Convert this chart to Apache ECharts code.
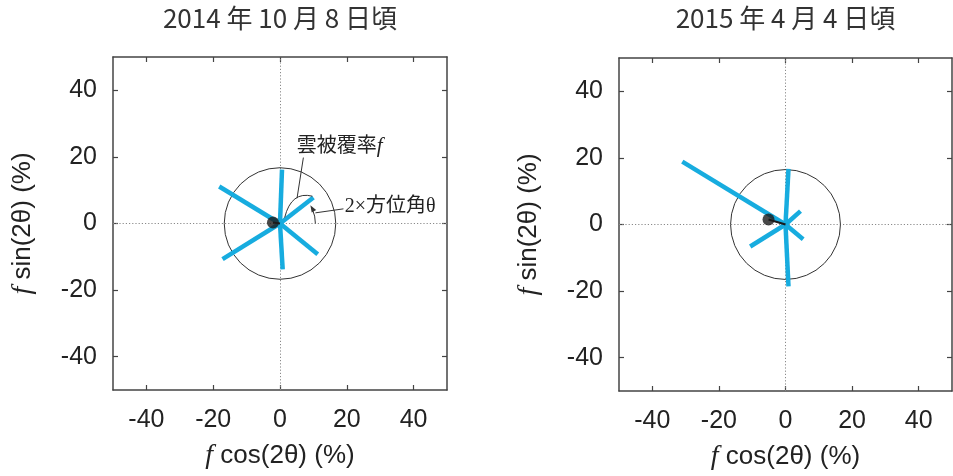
<!DOCTYPE html>
<html>
<head>
<meta charset="utf-8">
<script src="https://cdn.jsdelivr.net/npm/echarts@6/dist/echarts.min.js"></script>
<style>
  html, body { margin: 0; padding: 0; background: #fff; }
  #chart { width: 953px; height: 476px; }
</style>
</head>
<body>
<div id="chart"></div>
<script>
// Cloud cover vectors: each ray ends at (f cos2θ, f sin2θ) in percent.
const panelTitles = ['2014 年 10 月 8 日頃', '2015 年 4 月 4 日頃'];
const tickValues = [-40, -20, 0, 20, 40];

const raysOct2014 = [[0.6, 16.2], [0.8, -13.8], [-18.2, 11.1], [-17.2, -10.7], [10.0, 7.8], [11.3, -9.2]];
const raysApr2015 = [[0.9, 16.7], [0.9, -18.6], [-31.0, 18.9], [-10.6, -6.6], [4.5, 4.0], [5.3, -4.4]];

// mean vector of each date
const meanOct2014 = [-2.1, 0.3];
const meanApr2015 = [-5.1, 1.5];

// reference circle radius (%)
const circleOct2014 = 16.7;
const circleApr2015 = 16.5;

const BLUE = '#17acdf';
const FRAME = '#444';
const AXIS_MIN = -50, AXIS_MAX = 50;
const SANS = '"Liberation Sans", Arial, Helvetica, sans-serif';
const SERIF = '"Liberation Serif", "Noto Sans CJK JP", serif';

const grids = [
  { left: 113, top: 57, width: 334, height: 333 },
  { left: 619, top: 58, width: 333, height: 333 }
];

const italicRich = {
  i: { fontFamily: SERIF, fontStyle: 'italic', fontSize: 28, color: '#222' }
};

function frameAxis(gridIndex, position, isMain, name) {
  const ax = {
    type: 'value',
    gridIndex: gridIndex,
    position: position,
    min: AXIS_MIN,
    max: AXIS_MAX,
    splitLine: { show: false },
    axisLine: { show: true, onZero: false, lineStyle: { color: FRAME, width: 1.5 } },
    axisTick: { show: true, inside: true, length: 5, customValues: tickValues, lineStyle: { color: FRAME, width: 1.2 } },
    axisLabel: { show: isMain, customValues: tickValues, fontFamily: SANS, fontSize: 25, color: '#222', margin: 16 }
  };
  if (isMain) {
    ax.name = name;
    ax.nameLocation = 'middle';
    ax.nameTextStyle = { fontFamily: SANS, fontSize: 26, color: '#222', rich: italicRich };
  }
  return ax;
}

const xAxes = [], yAxes = [];
grids.forEach((g, i) => {
  const xb = frameAxis(i, 'bottom', true, '{i|f} cos(2θ) (%)');
  xb.nameGap = 52;
  xb.axisLabel.margin = 18;
  xAxes.push(xb, frameAxis(i, 'top', false));
  const yl = frameAxis(i, 'left', true, '{i|f} sin(2θ) (%)');
  yl.nameGap = 76;
  yAxes.push(yl, frameAxis(i, 'right', false));
});

function panelSeries(axisIndex, rays, mean, radius) {
  return [
    {
      // reference circle
      type: 'custom',
      xAxisIndex: axisIndex, yAxisIndex: axisIndex,
      silent: true, z: 2,
      data: [[0, 0, radius]],
      renderItem: (params, api) => {
        const c = api.coord([api.value(0), api.value(1)]);
        const r = api.size([api.value(2), 0])[0];
        return { type: 'circle', shape: { cx: c[0], cy: c[1], r: r },
                 style: { fill: 'none', stroke: '#333', lineWidth: 1 } };
      }
    },
    {
      type: 'lines',
      coordinateSystem: 'cartesian2d',
      xAxisIndex: axisIndex, yAxisIndex: axisIndex,
      silent: true, z: 3,
      lineStyle: { color: BLUE, width: 4.5, opacity: 1, cap: 'butt', curveness: 0 },
      data: rays.map(p => ({ coords: [[0, 0], p] }))
    },
    {
      type: 'lines',
      coordinateSystem: 'cartesian2d',
      xAxisIndex: axisIndex, yAxisIndex: axisIndex,
      silent: true, z: 4,
      lineStyle: { color: '#1a1a1a', width: 2, opacity: 1 },
      data: [{ coords: [[0, 0], mean] }]
    },
    {
      type: 'scatter',
      xAxisIndex: axisIndex, yAxisIndex: axisIndex,
      silent: true, z: 5,
      symbol: 'circle', symbolSize: 12,
      itemStyle: { color: '#1a1a1a' },
      data: [mean],
      markLine: {
        silent: true, symbol: 'none', z: 1,
        label: { show: false },
        lineStyle: { color: '#8a8a8a', width: 1, type: [1.2, 2] },
        data: [{ xAxis: 0 }, { yAxis: 0 }]
      }
    }
  ];
}

// Explanatory notes drawn on the first panel (data coordinates)
const note = {
  coverText: '雲被覆率{i|f}', coverAt: [5.0, 23.0],
  coverLeader: [[7.0, 19.8], [5.1, 7.6]],
  braceFrom: [1.4, 1.8], braceCtrl: [3.4, 9.8], braceTo: [9.7, 8.2],
  angleText: '2×方位角θ', angleAt: [19.4, 5.1],
  angleLeader: [[10.6, 3.2], [19.0, 4.4]],
  angleRadius: 10.6, angleEndDeg: 31
};

const noteSeries = {
  type: 'custom',
  xAxisIndex: 0, yAxisIndex: 0,
  silent: true, z: 6,
  data: [[0, 0]],
  renderItem: (params, api) => {
    const P = p => api.coord(p);
    const o = P([0, 0]);
    const r = api.size([note.angleRadius, 0])[0];
    const a = note.angleEndDeg * Math.PI / 180;
    const tip = [o[0] + r * Math.cos(a), o[1] - r * Math.sin(a)];
    const t = [-Math.sin(a), -Math.cos(a)];
    const n = [-t[1], t[0]];
    const L = 7, W = 2.6;
    const b1 = [tip[0] - t[0] * L + n[0] * W, tip[1] - t[1] * L + n[1] * W];
    const b2 = [tip[0] - t[0] * L - n[0] * W, tip[1] - t[1] * L - n[1] * W];
    const thin = { stroke: '#333', lineWidth: 1, fill: 'none' };
    const bf = P(note.braceFrom), bc = P(note.braceCtrl), bt = P(note.braceTo);
    const cl0 = P(note.coverLeader[0]), cl1 = P(note.coverLeader[1]);
    const al0 = P(note.angleLeader[0]), al1 = P(note.angleLeader[1]);
    const ct = P(note.coverAt), at = P(note.angleAt);
    return {
      type: 'group',
      children: [
        { type: 'bezierCurve', shape: { x1: bf[0], y1: bf[1], cpx1: bc[0], cpy1: bc[1], x2: bt[0], y2: bt[1] }, style: thin },
        { type: 'line', shape: { x1: cl0[0], y1: cl0[1], x2: cl1[0], y2: cl1[1] }, style: thin },
        { type: 'arc', shape: { cx: o[0], cy: o[1], r: r, startAngle: 0, endAngle: -a + 0.12, clockwise: false }, style: thin },
        { type: 'polygon', shape: { points: [tip, b1, b2] }, style: { fill: '#333' } },
        { type: 'line', shape: { x1: al0[0], y1: al0[1], x2: al1[0], y2: al1[1] }, style: thin },
        { type: 'text', x: ct[0], y: ct[1],
          style: { text: note.coverText, fontFamily: SERIF, fontSize: 20, fill: '#222',
                   align: 'left', verticalAlign: 'middle', rich: { i: { fontFamily: SERIF, fontStyle: 'italic', fontSize: 21 } } } },
        { type: 'text', x: at[0], y: at[1],
          style: { text: note.angleText, fontFamily: SERIF, fontSize: 20, fill: '#222',
                   align: 'left', verticalAlign: 'middle' } }
      ]
    };
  }
};

const chart = echarts.init(document.getElementById('chart'), null, { renderer: 'canvas' });
chart.setOption({
  backgroundColor: '#fff',
  animation: false,
  title: panelTitles.map((txt, i) => ({
    text: txt,
    left: grids[i].left + grids[i].width / 2,
    top: 5,
    padding: 0,
    textAlign: 'center',
    textStyle: { fontFamily: '"Noto Sans CJK JP", sans-serif', fontSize: 26, fontWeight: 'normal', color: '#333' }
  })),
  grid: grids,
  xAxis: xAxes,
  yAxis: yAxes,
  series: [
    ...panelSeries(0, raysOct2014, meanOct2014, circleOct2014),
    ...panelSeries(2, raysApr2015, meanApr2015, circleApr2015),
    noteSeries
  ]
});
</script>
</body>
</html>
